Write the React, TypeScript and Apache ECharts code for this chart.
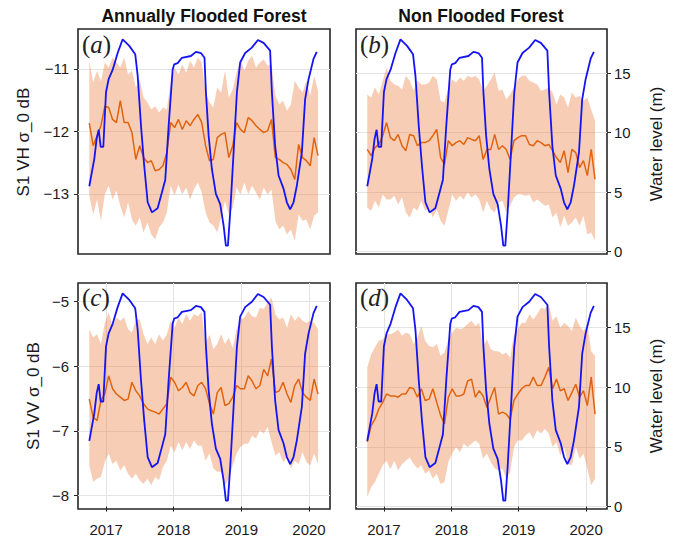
import React, { useEffect, useRef } from 'react';
import * as echarts from 'echarts';

// Sentinel-1 acquisition sample dates (decimal years)
const START = 2016.752;
const STEP = 0.0573;
const DATES: number[] = Array.from({ length: 60 }, (_, i) => +(START + i * STEP).toFixed(4));

const YEARS = [2017, 2018, 2019, 2020];

// Water level (m)
const WL_T = [2016.752, 2016.826, 2016.861, 2016.891, 2016.92, 2016.959, 2016.999, 2017.038, 2017.098, 2017.171,
  2017.245, 2017.343, 2017.431, 2017.467, 2017.516, 2017.564, 2017.615, 2017.678, 2017.762, 2017.826,
  2017.875, 2017.925, 2017.984, 2018.007, 2018.058, 2018.121, 2018.254, 2018.328, 2018.402, 2018.455,
  2018.476, 2018.516, 2018.564, 2018.623, 2018.687, 2018.737, 2018.771, 2018.801, 2018.835, 2018.885,
  2018.934, 2018.982, 2019.056, 2019.155, 2019.244, 2019.328, 2019.425, 2019.451, 2019.499, 2019.55,
  2019.623, 2019.672, 2019.721, 2019.771, 2019.82, 2019.869, 2019.894, 2019.942, 2019.993, 2020.066, 2020.115];
const WL_V = [5.5, 7.8, 9.5, 10.25, 8.8, 8.8, 13.4, 14.5, 15.3, 16.7,
  17.85, 17.3, 16.6, 14.8, 10.6, 7.2, 4.15, 3.3, 3.65, 5.0,
  6.05, 10.6, 15.3, 15.75, 15.85, 16.3, 16.45, 16.8, 16.7, 16.3,
  13.4, 9.75, 6.95, 4.85, 4.0, 2.2, 0.5, 0.5, 3.3, 8.35,
  13.4, 15.9, 16.7, 17.15, 17.8, 17.55, 16.9, 13.4, 8.9, 6.4,
  5.3, 4.15, 3.55, 4.15, 5.55, 7.4, 8.35, 12.8, 14.5, 16.2, 16.8];

// (a) Annually flooded forest, VH
const A_MEAN = [-11.87, -12.23, -12.07, -11.91, -11.6, -11.62, -11.81, -11.86, -11.51, -11.86,
  -11.86, -12.02, -12.45, -12.23, -12.42, -12.5, -12.47, -12.63, -12.61, -12.55,
  -12.34, -11.86, -11.94, -11.81, -11.97, -11.83, -11.91, -11.81, -11.73, -11.86,
  -12.23, -12.47, -12.45, -12.1, -12.05, -12.02, -12.42, -12.23, -11.86, -11.97,
  -12.02, -11.78, -11.83, -11.91, -11.97, -12.02, -11.99, -11.81, -12.42, -12.45,
  -12.5, -12.53, -12.61, -12.77, -12.21, -12.42, -12.47, -12.55, -12.1, -12.39];
const A_HI = [-10.87, -11.22, -11.03, -11.2, -10.9, -10.98, -10.82, -10.9, -10.98, -10.82,
  -11.09, -11.03, -11.3, -11.17, -11.46, -11.54, -11.65, -11.6, -11.7, -11.62,
  -11.65, -11.22, -10.98, -11.09, -10.93, -11.06, -10.87, -10.98, -10.82, -10.9,
  -11.38, -11.54, -11.62, -11.3, -11.38, -11.03, -11.46, -11.33, -11.06, -10.85,
  -11.03, -10.87, -10.79, -10.98, -10.9, -10.85, -10.95, -10.93, -11.43, -11.57,
  -11.51, -11.67, -11.57, -11.19, -11.3, -11.38, -11.19, -11.43, -11.11, -11.35];
const A_LO = [-13.03, -13.33, -13.09, -13.43, -13.01, -12.87, -13.09, -12.95, -13.19, -13.38,
  -13.14, -13.41, -13.51, -13.38, -13.62, -13.46, -13.65, -13.73, -13.54, -13.46,
  -13.3, -12.87, -13.03, -12.85, -13.01, -12.9, -13.09, -12.93, -12.82, -12.98,
  -13.3, -13.46, -13.51, -13.62, -13.38, -13.11, -13.33, -13.22, -12.9, -13.01,
  -12.82, -13.01, -12.87, -12.98, -13.09, -12.9, -13.01, -12.93, -13.43, -13.57,
  -13.51, -13.65, -13.57, -13.75, -13.33, -13.43, -13.41, -13.57, -13.35, -13.3];

// (b) Non flooded forest, VH
const B_MEAN = [-12.29, -12.39, -12.26, -12.21, -12.07, -11.86, -12.1, -12.15, -12.05, -12.23,
  -12.31, -12.05, -12.07, -12.23, -12.18, -12.18, -12.15, -12.07, -11.97, -12.42,
  -12.53, -12.15, -12.23, -12.18, -12.15, -12.21, -12.1, -12.13, -12.15, -12.07,
  -12.45, -12.29, -12.29, -12.05, -12.29, -12.23, -12.29, -12.45, -12.15, -12.1,
  -12.07, -12.07, -12.21, -12.23, -12.15, -12.18, -12.23, -12.21, -12.31, -12.42,
  -12.5, -12.31, -12.66, -12.29, -12.34, -12.58, -12.47, -12.71, -12.29, -12.77];
const B_HI = [-11.41, -11.46, -11.3, -11.41, -11.19, -10.98, -11.19, -11.25, -11.27, -11.33,
  -11.11, -11.19, -11.35, -11.19, -11.25, -11.25, -11.22, -11.11, -11.17, -11.51,
  -11.54, -11.3, -11.17, -11.22, -11.14, -11.19, -11.11, -11.14, -11.11, -11.17,
  -11.35, -11.27, -11.17, -11.06, -11.35, -11.33, -11.49, -11.41, -11.3, -11.17,
  -11.11, -11.11, -11.19, -11.22, -11.25, -11.35, -11.33, -11.3, -11.38, -11.57,
  -11.41, -11.46, -11.62, -11.38, -11.46, -11.43, -11.51, -11.46, -11.65, -11.83];
const B_LO = [-13.22, -13.27, -13.11, -13.22, -13.01, -13.09, -13.09, -13.03, -13.17, -13.06,
  -13.3, -13.38, -13.22, -13.27, -13.11, -13.27, -13.22, -13.38, -13.25, -13.43,
  -13.51, -13.27, -13.01, -13.11, -13.03, -13.09, -12.98, -13.06, -13.01, -13.09,
  -13.3, -13.11, -13.25, -13.3, -13.14, -13.11, -13.3, -13.19, -13.06, -13.01,
  -13.01, -13.03, -13.01, -13.14, -13.09, -13.14, -13.19, -13.17, -13.38, -13.3,
  -13.54, -13.35, -13.51, -13.46, -13.38, -13.51, -13.35, -13.65, -13.62, -13.75];

// (c) Annually flooded forest, VV
const C_MEAN = [-6.51, -6.79, -6.84, -6.53, -6.43, -6.15, -6.35, -6.43, -6.48, -6.53,
  -6.51, -6.25, -6.38, -6.46, -6.58, -6.66, -6.69, -6.71, -6.74, -6.66,
  -6.58, -6.17, -6.25, -6.38, -6.33, -6.25, -6.41, -6.46, -6.3, -6.25,
  -6.35, -6.58, -6.74, -6.41, -6.33, -6.61, -6.58, -6.48, -6.3, -6.35,
  -6.35, -6.15, -6.23, -6.35, -6.3, -6.05, -6.15, -5.89, -6.41, -6.38,
  -6.25, -6.43, -6.56, -6.3, -6.2, -6.41, -6.48, -6.53, -6.2, -6.43];
const C_HI = [-5.43, -5.56, -5.51, -5.66, -5.33, -5.17, -5.38, -5.25, -5.3, -5.25,
  -5.43, -5.48, -5.28, -5.28, -5.51, -5.66, -5.56, -5.66, -5.51, -5.61,
  -5.51, -5.3, -5.41, -5.25, -5.35, -5.2, -5.3, -5.2, -5.23, -5.17,
  -5.66, -5.51, -5.74, -5.66, -5.51, -5.66, -5.56, -5.72, -5.43, -5.28,
  -5.25, -5.15, -5.23, -5.25, -5.1, -5.12, -5.02, -4.94, -5.2, -5.28,
  -5.25, -5.41, -5.2, -5.3, -5.23, -5.3, -5.33, -5.3, -5.33, -5.43];
const C_LO = [-7.53, -7.79, -7.74, -7.71, -7.48, -7.35, -7.51, -7.46, -7.61, -7.53,
  -7.66, -7.74, -7.66, -7.76, -7.82, -7.74, -7.84, -7.71, -7.76, -7.56,
  -7.46, -7.23, -7.33, -7.17, -7.3, -7.17, -7.28, -7.15, -7.23, -7.23,
  -7.46, -7.35, -7.58, -7.63, -7.63, -7.84, -7.74, -7.53, -7.35, -7.25,
  -7.2, -7.2, -7.07, -7.12, -6.99, -7.04, -6.94, -7.17, -7.38, -7.33,
  -7.48, -7.41, -7.58, -7.46, -7.51, -7.33, -7.48, -7.53, -7.35, -7.51];

// (d) Non flooded forest, VV
const D_MEAN = [-7.17, -6.92, -6.82, -6.66, -6.56, -6.43, -6.46, -6.46, -6.48, -6.43,
  -6.43, -6.33, -6.35, -6.48, -6.35, -6.53, -6.51, -6.35, -6.56, -6.76,
  -6.89, -6.48, -6.35, -6.46, -6.46, -6.43, -6.23, -6.2, -6.48, -6.38,
  -6.46, -6.64, -6.48, -6.33, -6.74, -6.71, -6.74, -6.82, -6.53, -6.43,
  -6.35, -6.3, -6.3, -6.17, -6.3, -6.3, -6.17, -6.02, -6.35, -6.2,
  -6.38, -6.35, -6.53, -6.41, -6.28, -6.48, -6.38, -6.61, -6.17, -6.74];
const D_HI = [-6.02, -5.82, -5.71, -5.61, -5.59, -5.51, -5.51, -5.48, -5.43, -5.53,
  -5.48, -5.51, -5.66, -5.56, -5.38, -5.61, -5.69, -5.71, -5.66, -5.84,
  -5.79, -5.59, -5.48, -5.41, -5.43, -5.41, -5.35, -5.3, -5.38, -5.33,
  -5.69, -5.59, -5.74, -5.77, -5.77, -5.82, -5.79, -5.87, -5.51, -5.43,
  -5.33, -5.33, -5.2, -5.28, -5.2, -5.1, -5.12, -5.05, -5.3, -5.23,
  -5.41, -5.33, -5.38, -5.46, -5.25, -5.38, -5.46, -5.35, -5.77, -5.84];
const D_LO = [-8.02, -7.87, -7.79, -7.66, -7.53, -7.46, -7.59, -7.46, -7.61, -7.51,
  -7.46, -7.41, -7.51, -7.58, -7.53, -7.66, -7.61, -7.74, -7.66, -7.82,
  -7.79, -7.48, -7.35, -7.25, -7.33, -7.2, -7.25, -7.2, -7.15, -7.2,
  -7.43, -7.35, -7.48, -7.58, -7.61, -7.58, -7.74, -7.64, -7.25, -7.15,
  -7.15, -7.07, -7.02, -7.12, -6.99, -7.04, -6.97, -7.04, -7.25, -7.17,
  -7.38, -7.25, -7.51, -7.53, -7.25, -7.43, -7.35, -7.58, -7.84, -7.74];

const VH_TICKS = [-13, -12, -11];
const VV_TICKS = [-8, -7, -6, -5];
const WL_TICKS = [0, 5, 10, 15];

const ORANGE = '#e0640f';
const BAND = 'rgba(234,120,50,0.36)';
const BLUE = '#1414f5';
const FRAME = '#262626';
const GRIDC = '#e4e4e4';
const FONT = '"Liberation Sans", Arial, sans-serif';

const fmtNum = (v: number) => (v < 0 ? '\u2212' + Math.abs(v) : String(v));

export default function App() {
  const ref = useRef<HTMLDivElement>(null);
  useEffect(() => {
    if (!ref.current) return;
    const chart = echarts.init(ref.current, undefined, { renderer: 'svg' });

    const grids = [
      { left: 78, top: 29, width: 252, height: 225 },
      { left: 356, top: 29, width: 251, height: 225 },
      { left: 78, top: 283, width: 252, height: 226 },
      { left: 356, top: 283, width: 251, height: 226 },
    ].map((g) => ({ ...g, show: true, borderColor: FRAME, borderWidth: 1.6, backgroundColor: 'transparent', containLabel: false }));

    const XMIN = 2016.585, XMAX = 2020.31;
    const xAxis = [0, 1, 2, 3].map((i) => {
      const bottom = i >= 2;
      return {
        type: 'value', gridIndex: i, min: XMIN, max: XMAX, show: bottom,
        axisLine: { show: false },
        axisTick: { show: bottom, customValues: YEARS, length: 5, lineStyle: { color: FRAME, width: 1 } },
        axisLabel: { show: bottom, customValues: YEARS, formatter: (v: number) => String(v), fontSize: 15, fontFamily: FONT, color: '#1a1a1a', margin: 13 },
        splitLine: { show: bottom, lineStyle: { color: GRIDC, width: 1 } },
      };
    });

    const sigAxis = (gi: number, show: boolean, min: number, max: number, ticks: number[]) => ({
      type: 'value', gridIndex: gi, position: 'left', min, max, show,
      axisLine: { show: false },
      axisTick: { show, customValues: ticks, length: 4, lineStyle: { color: FRAME, width: 1 } },
      axisLabel: { show, customValues: ticks, formatter: fmtNum, fontSize: 15, fontFamily: FONT, color: '#1a1a1a', margin: 9 },
      splitLine: { show, lineStyle: { color: GRIDC, width: 1 } },
    });
    const wlAxis = (gi: number, show: boolean) => ({
      type: 'value', gridIndex: gi, position: 'right', min: -0.2, max: 18.72, show,
      axisLine: { show: false },
      axisTick: { show, customValues: WL_TICKS, length: 4, lineStyle: { color: FRAME, width: 1 } },
      axisLabel: { show, customValues: WL_TICKS, formatter: fmtNum, fontSize: 15, fontFamily: FONT, color: '#1a1a1a', margin: 7 },
      splitLine: { show, lineStyle: { color: GRIDC, width: 1 } },
    });

    const TOPMIN = -13.963, TOPMAX = -10.363, BOTMIN = -8.205, BOTMAX = -4.718;
    const yAxis = [
      sigAxis(0, true, TOPMIN, TOPMAX, VH_TICKS), wlAxis(0, false),
      sigAxis(1, false, TOPMIN, TOPMAX, VH_TICKS), wlAxis(1, true),
      sigAxis(2, true, BOTMIN, BOTMAX, VV_TICKS), wlAxis(2, false),
      sigAxis(3, false, BOTMIN, BOTMAX, VV_TICKS), wlAxis(3, true),
    ];

    const panels = [
      { mean: A_MEAN, hi: A_HI, lo: A_LO },
      { mean: B_MEAN, hi: B_HI, lo: B_LO },
      { mean: C_MEAN, hi: C_HI, lo: C_LO },
      { mean: D_MEAN, hi: D_HI, lo: D_LO },
    ];

    const series: any[] = [];
    panels.forEach((p, gi) => {
      const n = DATES.length;
      series.push({
        type: 'custom', xAxisIndex: gi, yAxisIndex: gi * 2, silent: true, z: 1, clip: true,
        data: DATES.map((x, i) => [x, p.lo[i], p.hi[i]]),
        encode: { x: 0, y: [1, 2] },
        renderItem: (params: any, api: any) => {
          if (params.dataIndex !== 0) return null;
          const pts: number[][] = [];
          for (let i = 0; i < n; i++) pts.push(api.coord([DATES[i], p.hi[i]]));
          for (let i = n - 1; i >= 0; i--) pts.push(api.coord([DATES[i], p.lo[i]]));
          return { type: 'polygon', shape: { points: pts }, style: { fill: BAND, stroke: null } };
        },
      });
      series.push({
        type: 'line', xAxisIndex: gi, yAxisIndex: gi * 2, z: 2, showSymbol: false, silent: true,
        data: DATES.map((x, i) => [x, p.mean[i]]),
        lineStyle: { color: ORANGE, width: 1.5 },
      });
      series.push({
        type: 'line', xAxisIndex: gi, yAxisIndex: gi * 2 + 1, z: 3, showSymbol: false, silent: true,
        data: WL_T.map((t, i) => [t, WL_V[i]]),
        lineStyle: { color: BLUE, width: 1.8 },
      });
    });

    const label = (letter: string, x: number, y: number) => ({
      type: 'text', x, y, z: 10,
      style: {
        text: `{p|(}{i|${letter}}{p|)}`,
        textAlign: 'left', textVerticalAlign: 'top',
        rich: {
          p: { fontSize: 25, fontFamily: '"Liberation Serif", serif', fill: '#222' },
          i: { fontSize: 25, fontFamily: '"Liberation Serif", serif', fontStyle: 'italic', fill: '#222' },
        },
      },
    });
    const vtext = (text: string, x: number, y: number) => ({
      type: 'text', x, y, rotation: Math.PI / 2, z: 10,
      style: { text, font: `17px ${FONT}`, fill: '#1a1a1a', textAlign: 'center', textVerticalAlign: 'middle' },
    });
    const title = (text: string, x: number) => ({
      type: 'text', x, y: 16, z: 10,
      style: { text, font: `bold 17.5px ${FONT}`, fill: '#111', textAlign: 'center', textVerticalAlign: 'middle' },
    });

    chart.setOption({
      animation: false,
      backgroundColor: '#ffffff',
      grid: grids,
      xAxis,
      yAxis,
      series,
      graphic: [
        title('Annually Flooded Forest', 204),
        title('Non Flooded Forest', 481),
        vtext('S1 VH \u03c3_0 dB', 23, 142),
        vtext('S1 VV \u03c3_0 dB', 33, 396),
        vtext('Water level (m)', 656, 144),
        vtext('Water level (m)', 656, 396),
        label('a', 82, 32),
        label('b', 360, 32),
        label('c', 82, 285),
        label('d', 360, 285),
      ],
    });
    return () => chart.dispose();
  }, []);
  return <div ref={ref} style={{ position: 'fixed', left: 0, top: 0, width: 673, height: 541 }} />;
}
